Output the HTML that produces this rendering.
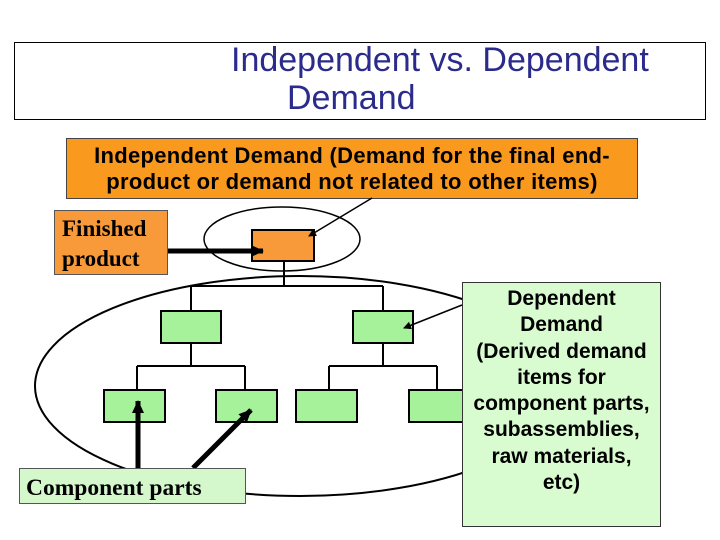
<!DOCTYPE html>
<html><head><style>
body{margin:0;width:720px;height:540px;background:#fff;position:relative;overflow:hidden;font-family:"Liberation Sans",Arial,sans-serif}
.a{position:absolute;box-sizing:border-box}
</style></head><body>
<div class="a" style="left:14px;top:42px;width:692px;height:78px;border:1px solid #000"></div>
<div class="a" style="left:231px;top:41px;font-size:34px;color:#2b2b8c;line-height:38px;white-space:nowrap">Independent vs. Dependent</div>
<div class="a" style="left:287px;top:79px;font-size:34px;color:#2b2b8c;line-height:38px">Demand</div>
<div class="a" style="left:66px;top:138px;width:572px;height:61px;background:#f99a1e;border:1px solid #444;text-align:center;font-size:22px;font-weight:bold;line-height:26px;padding-top:4px;color:#000;white-space:nowrap;letter-spacing:0.3px">Independent Demand (Demand for the final end-<br>product or demand not related to other items)</div>
<svg class="a" style="left:0;top:0" width="720" height="540">
<defs><marker id="m" markerWidth="8" markerHeight="8" refX="7" refY="4" orient="auto" markerUnits="userSpaceOnUse"><path d="M0,0L8,4L0,8z" fill="#000"/></marker>
<marker id="b" markerWidth="14" markerHeight="14" refX="12" refY="7" orient="auto" markerUnits="userSpaceOnUse"><path d="M0,1L13,7L0,13z" fill="#000"/></marker></defs>
<ellipse cx="300" cy="386" rx="265" ry="110" fill="none" stroke="#000" stroke-width="2"/>
<ellipse cx="282" cy="239" rx="78" ry="32" fill="none" stroke="#000" stroke-width="1.5"/>
<g stroke="#000" stroke-width="2" fill="none">
<path d="M284 261V286M191 286H383M191 286V311M383 286V311M191 343V366M383 343V366M137 366H245M329 366H437M137 366V390M245 366V390M329 366V390M437 366V390"/>
</g>
<rect x="252" y="230" width="62" height="31" fill="#f99a3a" stroke="#000" stroke-width="2"/>
<g fill="#a6f29a" stroke="#000" stroke-width="2">
<rect x="161" y="311" width="60" height="32"/><rect x="353" y="311" width="60" height="32"/>
<rect x="104" y="390" width="61" height="32"/><rect x="216" y="390" width="61" height="32"/>
<rect x="296" y="390" width="61" height="32"/><rect x="409" y="390" width="61" height="32"/>
</g>
<line x1="372" y1="198" x2="309" y2="236" stroke="#000" stroke-width="1.5" marker-end="url(#m)"/>
<line x1="168" y1="251" x2="263" y2="251" stroke="#000" stroke-width="5" marker-end="url(#b)"/>
<line x1="138" y1="468" x2="138" y2="401" stroke="#000" stroke-width="5" marker-end="url(#b)"/>
<line x1="193" y1="468" x2="251" y2="410" stroke="#000" stroke-width="5" marker-end="url(#b)"/>
</svg>
<div class="a" style="left:54px;top:210px;width:114px;height:65px;background:#f99a3a;border:1px solid #555;font-family:'Liberation Serif',serif;font-weight:bold;font-size:23px;line-height:30px;padding:3px 0 0 7px;white-space:nowrap">Finished<br>product</div>
<div class="a" style="left:19px;top:468px;width:227px;height:36px;background:#d4f8cc;border:1px solid #555;font-family:'Liberation Serif',serif;font-weight:bold;font-size:23.5px;line-height:38px;padding-left:6px;white-space:nowrap">Component parts</div>
<div class="a" style="left:462px;top:282px;width:199px;height:245px;background:#d8fcd0;border:1px solid #333;text-align:center;font-size:21px;line-height:26.3px;font-weight:bold;padding-top:3px;white-space:nowrap">Dependent<br>Demand<br>(Derived demand<br>items for<br>component parts,<br>subassemblies,<br>raw materials,<br>etc)</div>
<svg class="a" style="left:0;top:0" width="720" height="540"><defs><marker id="m2" markerWidth="8" markerHeight="8" refX="7" refY="4" orient="auto" markerUnits="userSpaceOnUse"><path d="M0,0L8,4L0,8z" fill="#000"/></marker></defs><line x1="462" y1="305" x2="404" y2="328" stroke="#000" stroke-width="1.5" marker-end="url(#m2)"/></svg>
</body></html>
